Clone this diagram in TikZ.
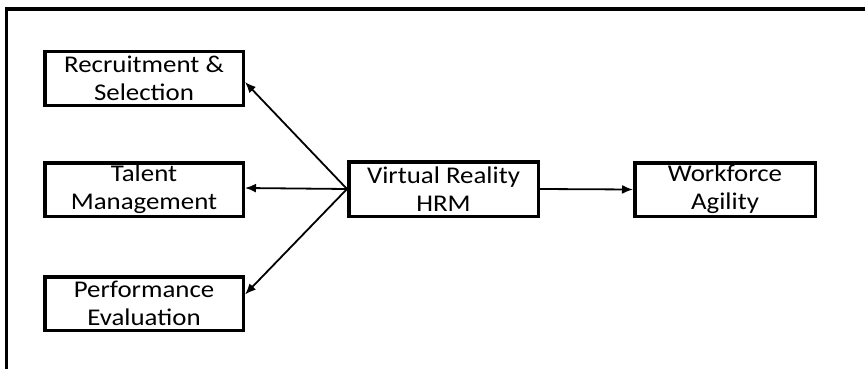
\documentclass[tikz,border=0pt]{standalone}
\usepackage{fontspec}
\setmainfont[FakeStretch=1.12]{Carlito}
\usetikzlibrary{arrows.meta,calc}
\begin{document}
\begin{tikzpicture}[x=1pt,y=-1pt,
  blk/.style={draw=black,line width=3.5pt,minimum width=198.5pt,minimum height=53.5pt,
    inner sep=0pt,align=center,font=\fontsize{24}{28}\selectfont},
  conn/.style={line width=1.8pt,-{Latex[length=11pt,width=9pt]}}]
\useasboundingbox (0,0) rectangle (865,369);
\begin{scope}
\clip (0,0) rectangle (865,369);
\fill[white] (0,0) rectangle (865,369);
\draw[line width=3.5pt] (6.5,380) -- (6.5,9) -- (880,9);
\end{scope}
\node[blk] (rec) at (144,78.5) {Recruitment \&\\Selection};
\node[blk] (tal) at (144,189.5) {Talent\\Management};
\node[blk] (perf) at (144,303.5) {Performance\\Evaluation};
\node[blk,minimum width=189.5pt,minimum height=54.5pt] (vr) at (443.5,189) {Virtual Reality\\HRM};
\node[blk,minimum width=180.5pt,minimum height=53.5pt] (wf) at (725,189.5) {Workforce\\Agility};
\draw[conn] (vr.west) -- ($(rec.east)+(0,3.5)$);
\draw[conn] (vr.west) -- ($(tal.east)+(0,-1.5)$);
\draw[conn] (vr.west) -- ($(perf.east)+(0,-9)$);
\draw[conn] (vr.east) -- (wf.west);
\end{tikzpicture}
\end{document}
